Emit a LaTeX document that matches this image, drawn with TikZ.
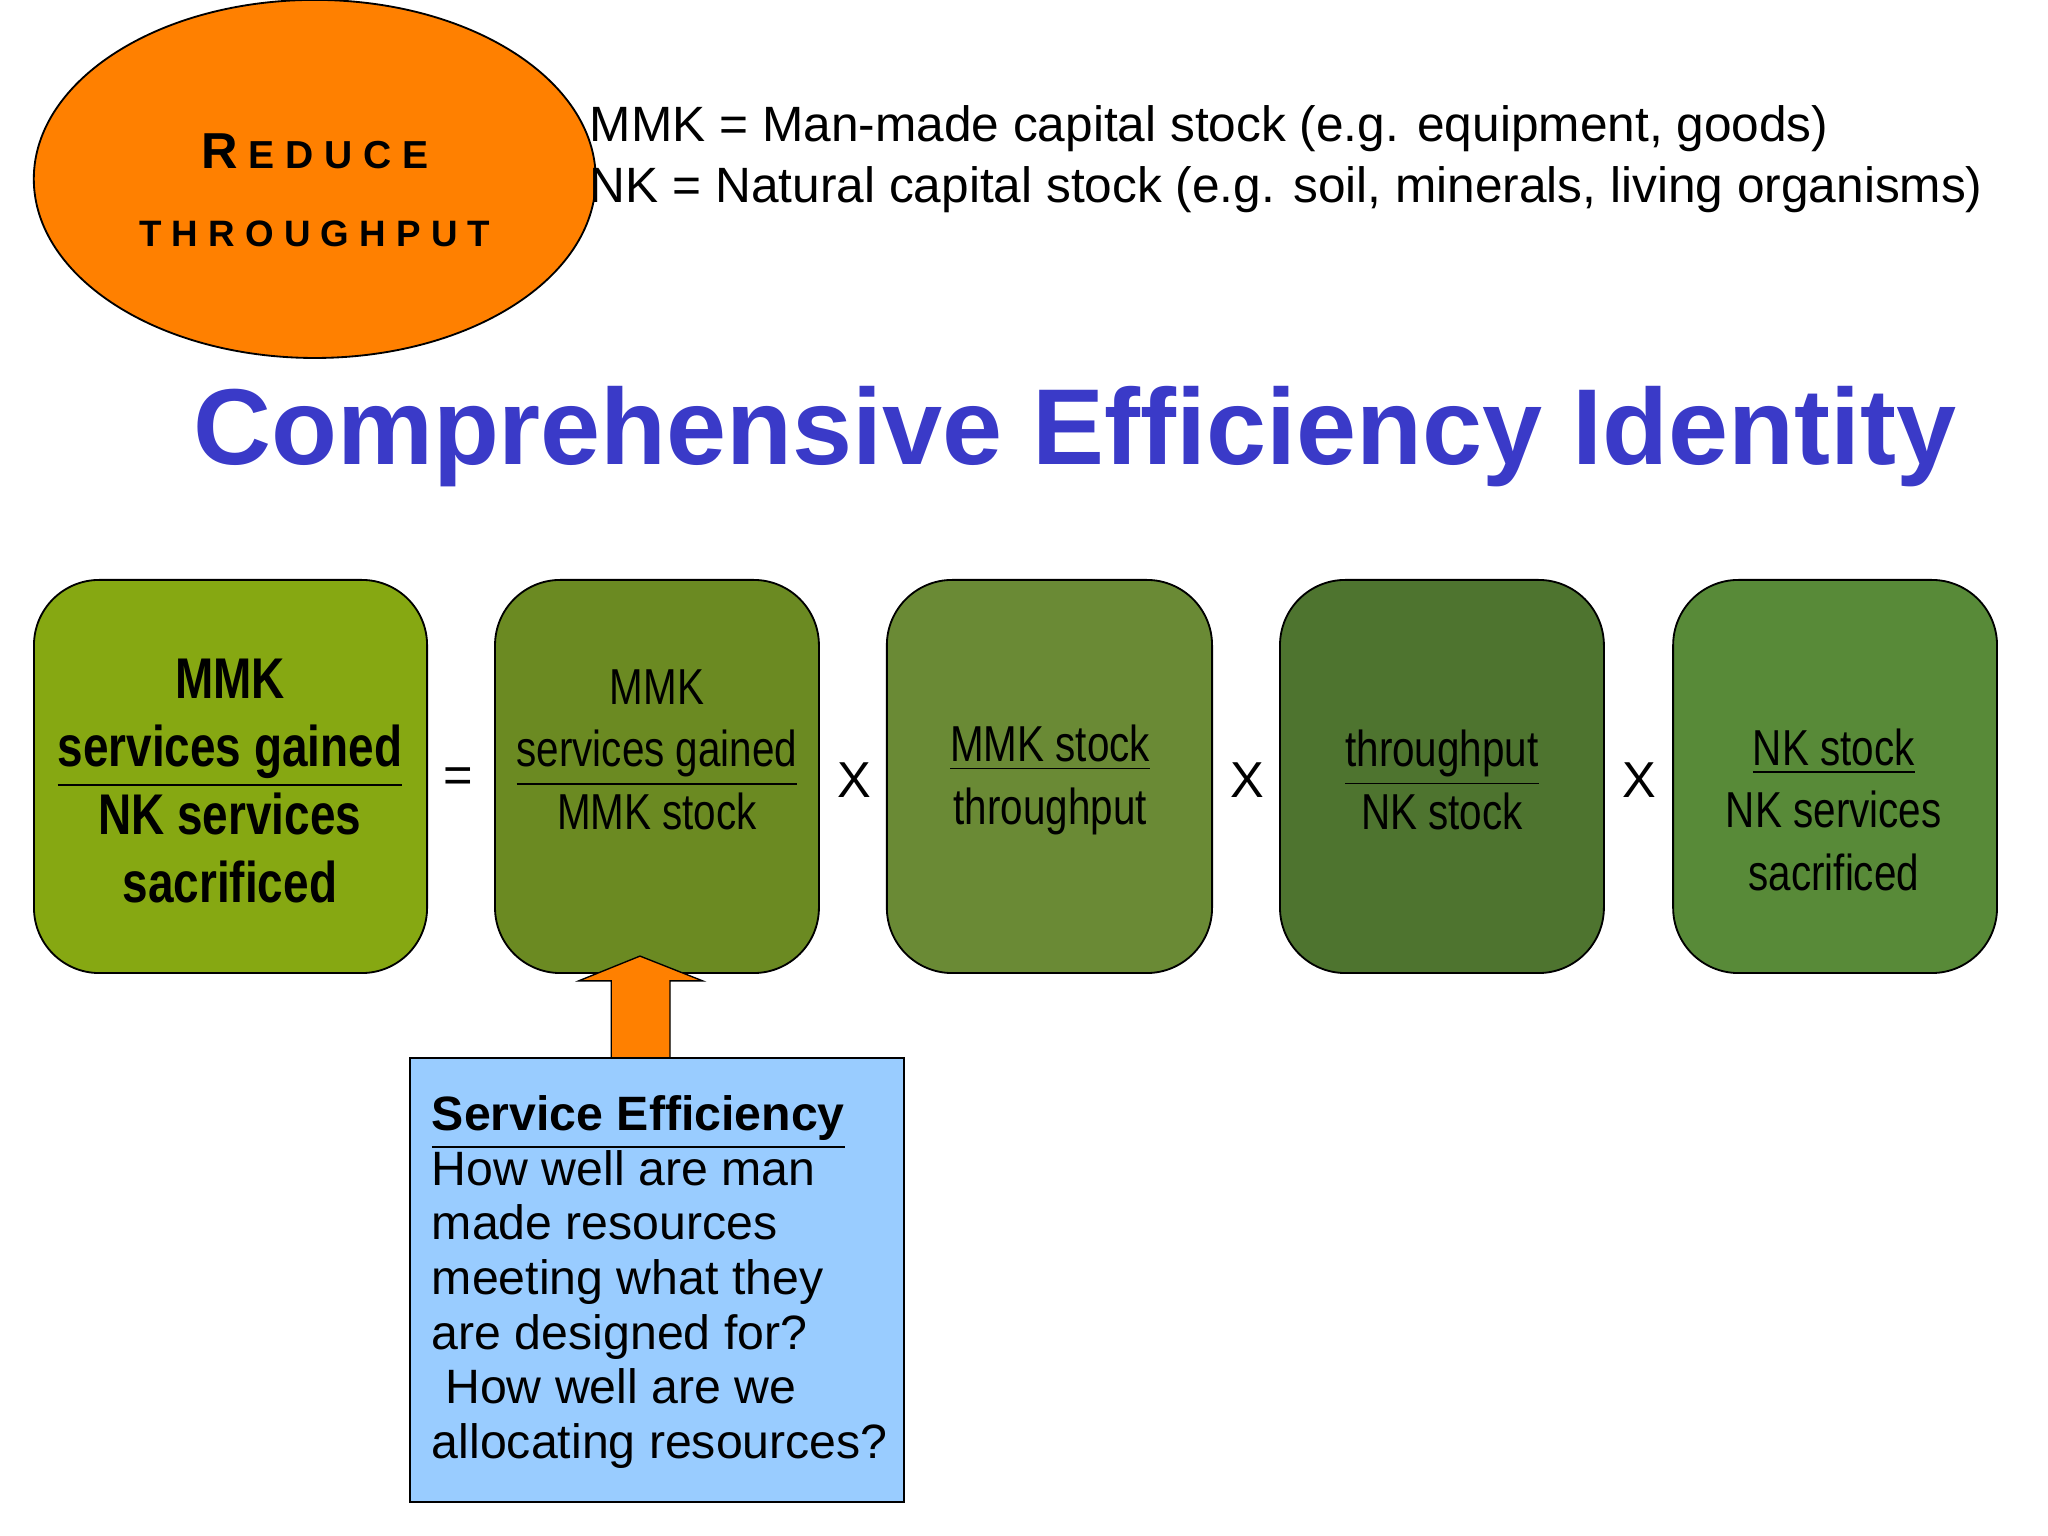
\documentclass[tikz,border=0pt]{standalone}
\usepackage{fontspec}
\setmainfont{Liberation Sans}
\newfontfamily\narrow[FakeStretch=0.8]{Liberation Sans}
\usetikzlibrary{shapes.geometric}
\definecolor{org}{HTML}{FF8000}
\definecolor{ttl}{HTML}{3A3AC8}
\definecolor{gA}{HTML}{86A812}
\definecolor{gB}{HTML}{6B8A22}
\definecolor{gC}{HTML}{6A8A35}
\definecolor{gD}{HTML}{4E742F}
\definecolor{gE}{HTML}{588A38}
\definecolor{lb}{HTML}{99CCFF}
\tikzset{
 gbox/.style={draw=black, rounded corners=0.5cm, inner sep=0pt},
 btxt/.style={align=center, font=\narrow\fontsize{11pt}{13.6pt}\selectfont},
 op/.style={font=\fontsize{11pt}{13pt}\selectfont},
}
\begin{document}
\begin{tikzpicture}[x=0.01cm,y=-0.01cm]
\useasboundingbox (0,0) rectangle (1568,1176);
\node[ellipse, draw=black, fill=org, minimum width=430\pgflinewidth*0+4.3cm, minimum height=2.74cm] (ell) at (241,137) {};
\node[font=\bfseries\fontsize{8pt}{8pt}\selectfont, align=center] (rt) at (241,146)
 {\fontsize{11pt}{11pt}\selectfont R\fontsize{8.5pt}{8.5pt}\selectfont\ E D U C E\\[9pt] T H R O U G H P U T};
\node[anchor=west, font=\fontsize{10.8pt}{13.2pt}\selectfont, align=left, inner sep=0pt] (def) at (451,122)
 {MMK = Man-made capital stock (e.g. equipment, goods)\\NK = Natural capital stock (e.g. soil, minerals, living organisms)};
\node[font=\bfseries\fontsize{23.5pt}{26pt}\selectfont, text=ttl] (title) at (823,334) {Comprehensive Efficiency Identity};
% boxes
\draw[gbox, fill=gA] (26,444) rectangle (327,745);
\draw[gbox, fill=gB] (379,444) rectangle (627,745);
\draw[gbox, fill=gC] (679,444) rectangle (928,745);
\draw[gbox, fill=gD] (980,444) rectangle (1228,745);
\draw[gbox, fill=gE] (1281,444) rectangle (1529,745);
\node[btxt, font=\narrow\bfseries\fontsize{12.5pt}{14.8pt}\selectfont] (t1) at (176,598)
 {MMK\\\underline{services gained}\\NK services\\sacrificed};
\node[btxt] (t2) at (503,574) {MMK\\\underline{services gained}\\MMK stock};
\node[btxt] (t3) at (804,597) {\underline{MMK stock}\\throughput};
\node[btxt] (t4) at (1104,597) {\underline{throughput}\\NK stock};
\node[btxt] (t5) at (1404,620) {\underline{NK stock}\\NK services\\sacrificed};
\node[op] (o1) at (351,597) {=};
\node[op] (o2) at (654,597) {X};
\node[op] (o3) at (955,597) {X};
\node[op] (o4) at (1255,597) {X};
% arrow
\draw[fill=org, draw=black, line width=0.3pt] (468,810) -- (468,751) -- (443,751) -- (490,732) -- (538,751) -- (513,751) -- (513,810) -- cycle;
\draw[fill=lb, draw=black] (314,810) rectangle (692,1150);
\node[anchor=north west, align=left, inner sep=0pt, font=\fontsize{10.5pt}{11.9pt}\selectfont] (se) at (330,838)
 {\textbf{\underline{Service Efficiency}}\\How well are man\\made resources\\meeting what they\\are designed for?\\\ How well are we\\allocating resources?};
\end{tikzpicture}
\end{document}
